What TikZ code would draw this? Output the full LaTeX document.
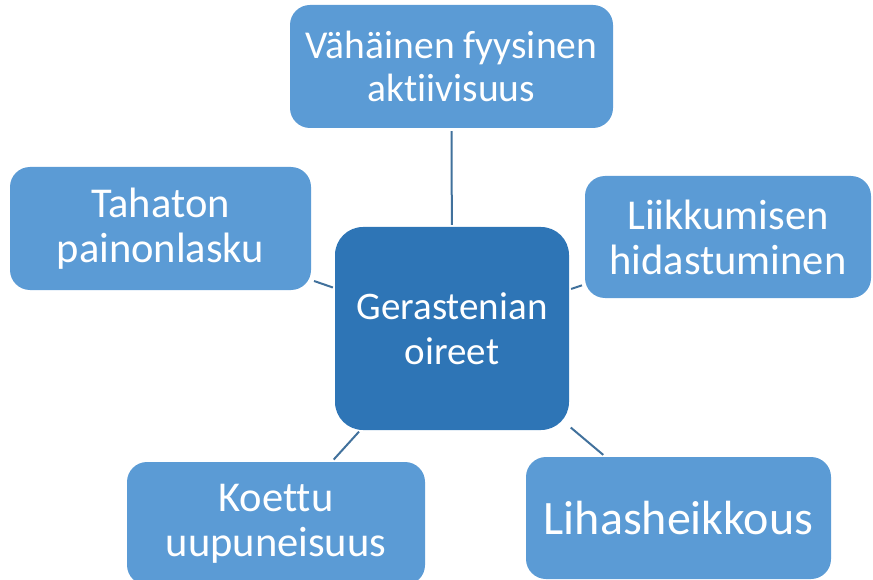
\documentclass[tikz,border=0pt]{standalone}
\usepackage{fontspec}
\setmainfont{Carlito}[Ligatures={NoCommon}]
\definecolor{boxblue}{HTML}{5B9BD5}
\definecolor{hubblue}{HTML}{2E75B6}
\definecolor{linkblue}{HTML}{41719C}
\begin{document}
\begin{tikzpicture}[x=1pt,y=-1pt,
  leaf/.style={fill=boxblue, rounded corners=20pt, text=white, align=center, inner sep=0pt,
    font=\fontsize{42.5}{45}\selectfont},
  hub/.style={fill=hubblue, rounded corners=28pt, text=white, align=center, inner sep=0pt,
    font=\fontsize{39}{45}\selectfont},
  link/.style={draw=linkblue, line width=2pt, shorten <=2pt, shorten >=3pt}]
\useasboundingbox (0,0) rectangle (873,580);
\node[hub, minimum width=234pt, minimum height=203pt] (c) at (452,328.5) {Gerastenian\\oireet};
\node[leaf, minimum width=323pt, minimum height=123pt, font=\fontsize{39.5}{43}\selectfont] (t) at (451.5,66.5) {Vähäinen fyysinen\\aktiivisuus};
\node[leaf, minimum width=301pt, minimum height=123pt] (l) at (160.5,228.5) {Tahaton\\painonlasku};
\node[leaf, minimum width=286pt, minimum height=122pt] (r) at (728,237) {Liikkumisen\\hidastuminen};
\node[leaf, minimum width=305pt, minimum height=122pt, font=\fontsize{48}{55}\selectfont] (br) at (678.5,518) {Lihasheikkous};
\node[leaf, minimum width=298pt, minimum height=123pt] (bl) at (276,523.5) {Koettu\\uupuneisuus};
\draw[link] (c) -- (t);
\draw[link] (c) -- (l);
\draw[link] (c) -- (r);
\draw[link] (c) -- (br);
\draw[link] (c) -- (bl);
\end{tikzpicture}
\end{document}
